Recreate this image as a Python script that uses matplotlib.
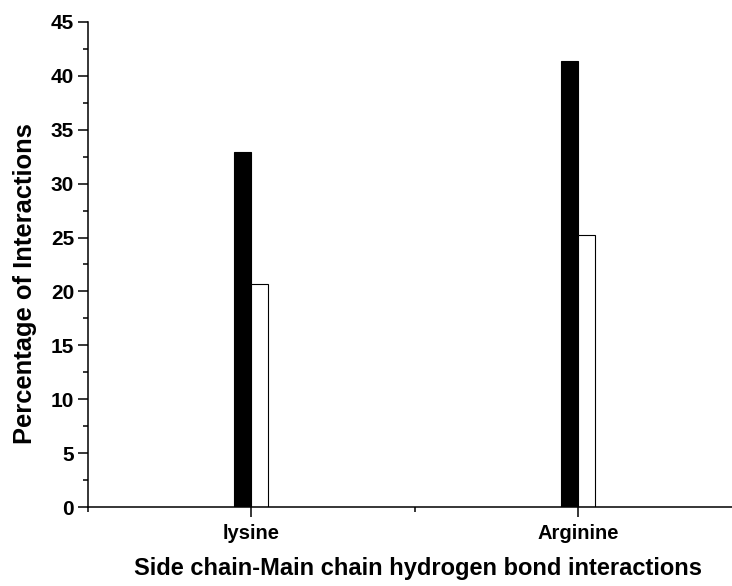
import numpy as np
import matplotlib
matplotlib.use('Agg')
import matplotlib.pyplot as plt
from matplotlib.ticker import MultipleLocator

plt.rcParams['font.family'] = ['Liberation Sans', 'DejaVu Sans']
plt.rcParams['font.weight'] = 'bold'

# data
categories = ['lysine', 'Arginine']
series_black = [32.9, 41.4]
series_white = [20.7, 25.2]

fig = plt.figure(figsize=(7.32, 5.86), dpi=100)
ax = fig.add_axes([0.1202, 0.1348, 0.893, 0.8277])

x = np.arange(1, len(categories) + 1)
w = 0.052
ax.bar(x - w / 2, series_black, width=w, color='black', edgecolor='black', linewidth=0.8)
ax.bar(x + w / 2, series_white, width=w, color='white', edgecolor='black', linewidth=0.8)

ax.set_xlim(0.5, 2.5)
ax.set_ylim(0, 45)
ax.set_xticks(x)
ax.set_xticklabels(categories, fontsize=14.5, fontweight='bold')
ax.xaxis.set_minor_locator(MultipleLocator(0.5))
ax.yaxis.set_major_locator(MultipleLocator(5))
ax.yaxis.set_minor_locator(MultipleLocator(2.5))
ax.tick_params(axis='y', which='major', length=7, width=1.1, labelsize=15, pad=3)
ax.tick_params(axis='y', which='minor', length=3.5, width=1.1)
ax.tick_params(axis='x', which='major', length=7, width=1.1, pad=5)
ax.tick_params(axis='x', which='minor', length=3.5, width=1.1)
for lab in ax.get_yticklabels():
    lab.set_fontweight('bold')

ax.spines['top'].set_visible(False)
ax.spines['right'].set_visible(False)
ax.spines['left'].set_linewidth(1.1)
ax.spines['bottom'].set_linewidth(1.1)

ax.set_ylabel('Percentage of Interactions', fontsize=18.4, fontweight='bold')
ax.yaxis.set_label_coords(-0.078, 0.46)
ax.set_xlabel('Side chain-Main chain hydrogen bond interactions', fontsize=17,
              fontweight='bold')
ax.xaxis.set_label_coords(0.505, -0.104)

fig.savefig('out.png', dpi=100)
